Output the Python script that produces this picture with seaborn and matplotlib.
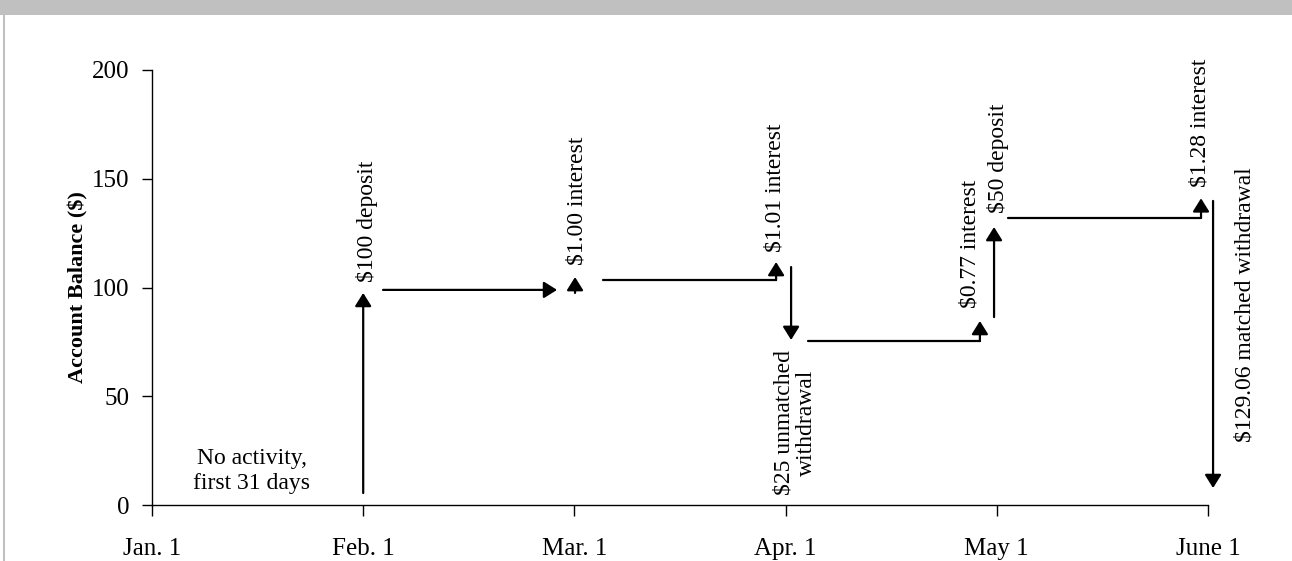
import matplotlib
matplotlib.use("Agg")
import matplotlib.pyplot as plt
from matplotlib.patches import Rectangle
from matplotlib.lines import Line2D
import seaborn as sns
import pandas as pd

# ---- data ----
month_labels = ["Jan. 1", "Feb. 1", "Mar. 1", "Apr. 1", "May 1", "June 1"]
month_pos = [0, 1, 2, 3, 4, 5]
y_ticks = [0, 50, 100, 150, 200]

# vertical transaction arrows (x in months, balance from -> to)
arrow_x = [1.0, 2.003, 2.955, 3.026, 3.92, 3.987, 4.967, 5.024]
arrow_y0 = [5.5, 97.5, 103.4, 109.4, 75.4, 86.4, 132.0, 139.8]
arrow_y1 = [97.5, 104.8, 111.7, 75.9, 84.6, 127.8, 141.0, 7.8]

# horizontal balance segments
seg_x0 = [1.094, 2.135, 3.106, 4.053]
seg_x1 = [1.918, 2.955, 3.92, 4.967]
seg_y = [98.9, 103.4, 75.4, 132.0]
seg_arrow = [True, False, False, False]

# labels
label_text = ["$100 deposit", "$1.00 interest", "$1.01 interest",
              "$25 unmatched\nwithdrawal", "$0.77 interest", "$50 deposit",
              "$1.28 interest", "$129.06 matched withdrawal"]
label_x = [1.018, 2.012, 2.95, 3.045, 3.873, 4.006, 4.962, 5.175]
label_y = [102.3, 110.3, 116.3, 71.3, 90.6, 134.3, 146.2, 155.4]
label_va = ["bottom", "bottom", "bottom", "top", "bottom", "bottom", "bottom", "top"]

note_text = "No activity,\nfirst 31 days"
note_x, note_y = 0.473, 15.6

# ---- style ----
sns.set_theme(style="white")
plt.rcParams["font.family"] = ["Liberation Serif", "DejaVu Serif"]
plt.rcParams["text.color"] = "black"
plt.rcParams["axes.labelcolor"] = "black"

fig = plt.figure(figsize=(12.92, 5.61), dpi=100)
ax = fig.add_axes([152 / 1292, 56 / 561, (1208 - 152) / 1292, (505 - 70) / 561])

# horizontal segments via seaborn
rows = []
for i, (a, b, y) in enumerate(zip(seg_x0, seg_x1, seg_y)):
    rows.append({"seg": i, "x": a, "y": y})
    rows.append({"seg": i, "x": b, "y": y})
df = pd.DataFrame(rows)
arrowstyle = "-|>,head_length=0.4,head_width=0.25"
for i, (a, b, y, arr) in enumerate(zip(seg_x0, seg_x1, seg_y, seg_arrow)):
    if arr:
        ax.annotate("", xy=(b, y), xytext=(a, y), annotation_clip=False,
                    arrowprops=dict(arrowstyle=arrowstyle, lw=1.6, color="black",
                                    shrinkA=0, shrinkB=0, mutation_scale=20))
    else:
        sub = df[df["seg"] == i]
        sns.lineplot(data=sub, x="x", y="y", ax=ax, color="black", lw=1.6,
                     estimator=None, legend=False)

for x, y0, y1 in zip(arrow_x, arrow_y0, arrow_y1):
    ax.annotate("", xy=(x, y1), xytext=(x, y0), annotation_clip=False,
                arrowprops=dict(arrowstyle=arrowstyle, lw=1.6, color="black",
                                shrinkA=0, shrinkB=0, mutation_scale=20))

for t, x, y, va in zip(label_text, label_x, label_y, label_va):
    ax.text(x, y, t, rotation=90, ha="center", va=va, fontsize=17,
            multialignment="center", color="black", clip_on=False,
            linespacing=1.1)

ax.text(note_x, note_y, note_text, ha="center", va="center", fontsize=17,
        multialignment="center", color="black", linespacing=1.25)

ax.set_xlim(0, 5)
ax.set_ylim(0, 200)
ax.set_xticks(month_pos)
ax.set_xticklabels(month_labels)
ax.set_yticks(y_ticks)
ax.tick_params(axis="x", direction="out", length=8, width=1, color="black",
               labelcolor="black", labelsize=18, pad=15.5, bottom=True)
ax.tick_params(axis="y", direction="out", length=7, width=1, color="black",
               labelcolor="black", labelsize=18, pad=9, left=True)
ax.set_xlabel("")
ax.set_ylabel("Account Balance ($)", fontsize=16, fontweight="bold", labelpad=3,
              color="black")
sns.despine(ax=ax)
for s in ["left", "bottom"]:
    ax.spines[s].set_color("black")
    ax.spines[s].set_linewidth(1)
ax.grid(False)

# frame decorations
fig.patches.append(Rectangle((0, 1 - 15 / 561), 1, 15 / 561, transform=fig.transFigure,
                             facecolor="#c0c0c0", edgecolor="none", zorder=0))
fig.lines.append(Line2D([3.5 / 1292, 3.5 / 1292], [0, 1 - 15 / 561], transform=fig.transFigure,
                        color="#c0c0c0", lw=1.5))

fig.savefig("out.png", dpi=100)
